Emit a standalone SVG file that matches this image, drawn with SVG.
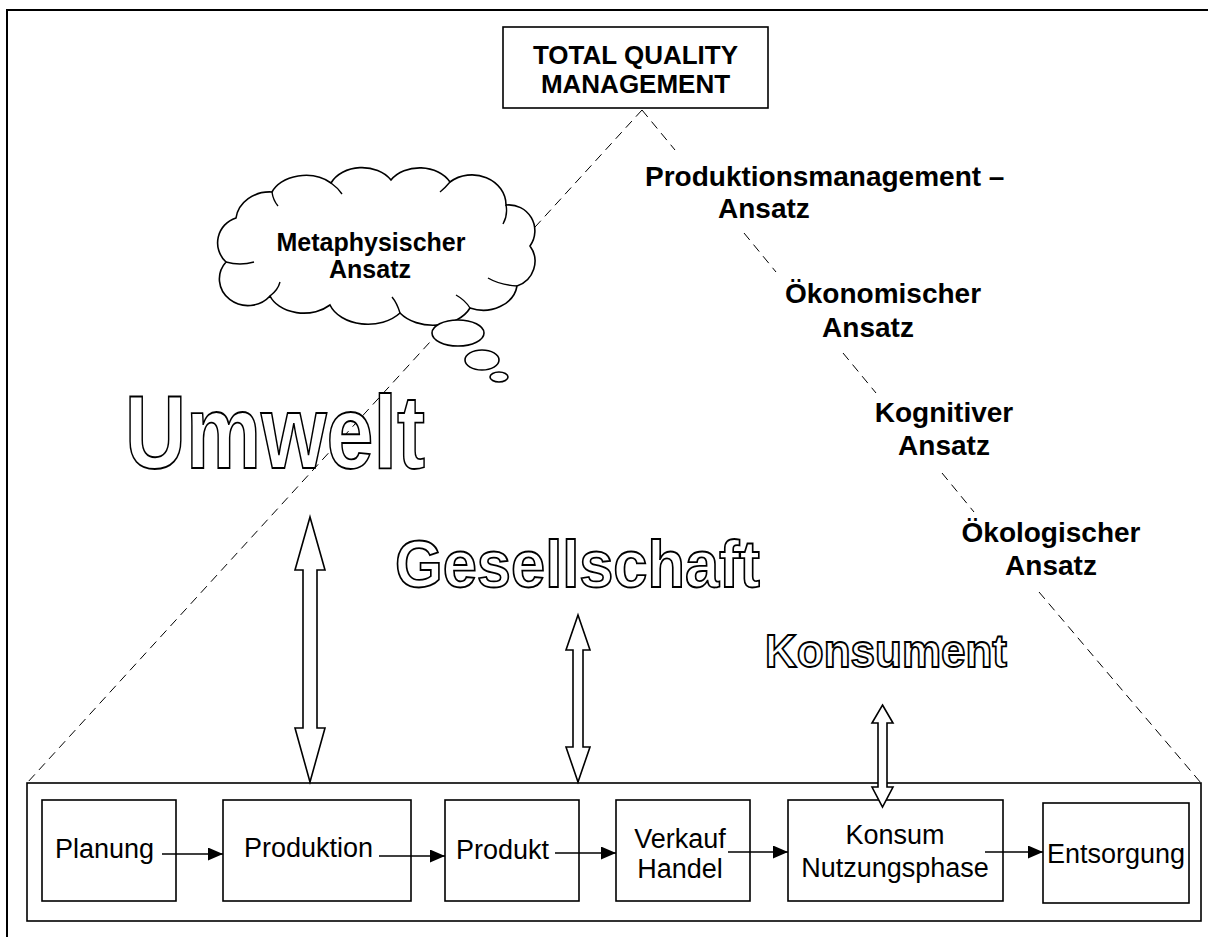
<svg xmlns="http://www.w3.org/2000/svg" width="1216" height="937" viewBox="0 0 1216 937">
<defs>
<style>
.frame{fill:none;stroke:#000;stroke-width:2}
.box{fill:#fff;stroke:#000;stroke-width:1.6}
.curl{fill:none;stroke:#000;stroke-width:1.4}
.dash{fill:none;stroke:#000;stroke-width:1;stroke-dasharray:9 6}
.hollow{fill:#fff;stroke:#000;stroke-width:1.6;stroke-linejoin:miter}
.flow{fill:none;stroke:#000;stroke-width:1.6;marker-end:url(#ah)}
.lbl{font-family:"Liberation Sans",Arial,sans-serif;font-size:27px;fill:#000}
.blbl{font-family:"Liberation Sans",Arial,sans-serif;font-size:28px;font-weight:bold;fill:#000}
.outline{font-family:"Liberation Sans",Arial,sans-serif;font-weight:bold;fill:#fff;stroke:#000;stroke-width:1.8}
</style>
<marker id="ah" viewBox="0 0 10 10" refX="10" refY="5" markerWidth="15" markerHeight="13" markerUnits="userSpaceOnUse" orient="auto" preserveAspectRatio="none">
<path d="M0,0 L10,5 L0,10 Z" fill="#000"/>
</marker>
</defs>
<rect width="1216" height="937" fill="#fff"/>
<path class="frame" d="M7,937 V10 H1208"/>

<g id="connectors">
<line class="dash" x1="642" y1="110" x2="27" y2="783"/>
<line class="dash" x1="642" y1="110" x2="675" y2="150"/>
<line class="dash" x1="744" y1="233" x2="776" y2="272"/>
<line class="dash" x1="843" y1="353" x2="876" y2="393"/>
<line class="dash" x1="942" y1="473" x2="974" y2="512"/>
<line class="dash" x1="1039" y1="592" x2="1201" y2="783"/>
</g>

<g id="tqm">
<rect class="box" x="503" y="27" width="265" height="81"/>
<text class="blbl" style="font-size:26px" x="635.5" y="64" text-anchor="middle">TOTAL QUALITY</text>
<text class="blbl" style="font-size:26px" x="635.5" y="93" text-anchor="middle">MANAGEMENT</text>
</g>

<g id="metaphysisch">
<path class="box" d="M226,262 A26,26 0 0 1 236,218 A34,30 0 0 1 272,192 A36,26 0 0 1 331,183 A34,26 0 0 1 391,180 A34,26 0 0 1 450,182 A34,30 0 0 1 506,205 A26,26 0 0 1 530,246 A26,26 0 0 1 517,286 A34,28 0 0 1 470,308 A40,28 0 0 1 400,313 A40,28 0 0 1 330,305 A36,26 0 0 1 270,296 A28,26 0 0 1 226,262 Z"/>
<path class="curl" d="M226,262 Q240,266 254,262 M270,296 Q278,290 280,282 M400,313 Q397,303 392,297 M470,308 Q465,300 456,295 M517,286 Q500,285 488,278 M506,205 Q508,215 503,224 M450,182 Q445,188 440,192 M331,183 Q338,188 342,194 M272,192 Q273,200 278,206"/>
<ellipse class="box" cx="458" cy="333" rx="26" ry="13"/>
<ellipse class="box" cx="482" cy="360" rx="17" ry="10"/>
<ellipse class="box" cx="499" cy="377" rx="9" ry="5"/>
<text class="blbl" style="font-size:25px" x="371" y="251" text-anchor="middle">Metaphysischer</text>
<text class="blbl" style="font-size:25px" x="370" y="278" text-anchor="middle">Ansatz</text>
</g>

<g id="produktionsmanagement">
<text class="blbl" x="645" y="186">Produktionsmanagement –</text>
<text class="blbl" x="718" y="218">Ansatz</text>
</g>
<g id="oekonomisch">
<text class="blbl" x="883" y="303" text-anchor="middle">Ökonomischer</text>
<text class="blbl" x="868" y="337" text-anchor="middle">Ansatz</text>
</g>
<g id="kognitiv">
<text class="blbl" x="944" y="422" text-anchor="middle">Kognitiver</text>
<text class="blbl" x="944" y="455" text-anchor="middle">Ansatz</text>
</g>
<g id="oekologisch">
<text class="blbl" x="1051" y="542" text-anchor="middle">Ökologischer</text>
<text class="blbl" x="1051" y="575" text-anchor="middle">Ansatz</text>
</g>

<g id="umwelt">
<text class="outline" x="125" y="468" font-size="104" textLength="300" lengthAdjust="spacingAndGlyphs">Umwelt</text>
</g>
<g id="gesellschaft">
<text class="outline" x="395" y="587" font-size="66" textLength="365" lengthAdjust="spacingAndGlyphs">Gesellschaft</text>
</g>
<g id="konsument">
<text class="outline" x="765" y="667" font-size="46" textLength="242" lengthAdjust="spacingAndGlyphs">Konsument</text>
</g>

<g id="kette">
<rect class="box" x="27" y="783" width="1174" height="138"/>
</g>

<g id="planung">
<rect class="box" x="42" y="800" width="134" height="101"/>
<text class="lbl" x="55" y="858">Planung</text>
</g>
<g id="produktion">
<rect class="box" x="223" y="800" width="188" height="101"/>
<text class="lbl" x="244" y="857">Produktion</text>
</g>
<g id="produkt">
<rect class="box" x="445" y="800" width="134" height="101"/>
<text class="lbl" x="456" y="859">Produkt</text>
</g>
<g id="verkauf">
<rect class="box" x="616" y="800" width="134" height="101"/>
<text class="lbl" x="680" y="848" text-anchor="middle">Verkauf</text>
<text class="lbl" x="680" y="878" text-anchor="middle">Handel</text>
</g>
<g id="konsum">
<rect class="box" x="788" y="800" width="215" height="101"/>
<text class="lbl" x="895" y="844" text-anchor="middle">Konsum</text>
<text class="lbl" x="895" y="877" text-anchor="middle">Nutzungsphase</text>
</g>
<g id="entsorgung">
<rect class="box" x="1043" y="803" width="146" height="100"/>
<text class="lbl" x="1116" y="863" text-anchor="middle">Entsorgung</text>
</g>

<g id="flow-connectors">
<line class="flow" x1="162" y1="854" x2="223" y2="854"/>
<line class="flow" x1="379" y1="856" x2="445" y2="856"/>
<line class="flow" x1="555" y1="853" x2="616" y2="853"/>
<line class="flow" x1="728" y1="852" x2="788" y2="852"/>
<line class="flow" x1="985" y1="852" x2="1043" y2="852"/>
<polygon class="hollow" points="310,517 325,570 317,570 317,728 325,728 310,782 295,728 303,728 303,570 295,570"/>
<polygon class="hollow" points="578,615 590,650 583,650 583,747 590,747 578,782 566,747 573,747 573,650 566,650"/>
<polygon class="hollow" points="882.5,705 893,723 887,723 887,787 893,787 882.5,807 872,787 878,787 878,723 872,723"/>
</g>
</svg>
